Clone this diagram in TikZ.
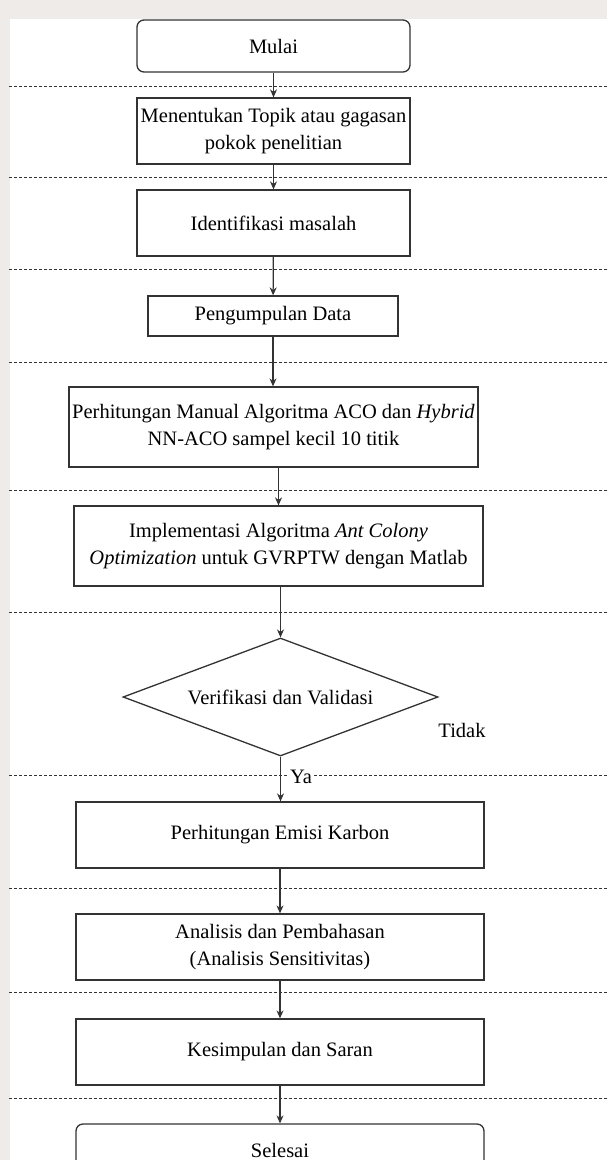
\documentclass[tikz,border=0pt]{standalone}
\usepackage{fontspec}
\setmainfont{Liberation Serif}
\usetikzlibrary{arrows.meta,positioning,shapes.geometric}
\definecolor{garis}{HTML}{333333}
\definecolor{latar}{HTML}{EEEBE8}
\tikzset{
  >={Stealth[length=8pt,width=7pt]},
  % kotak alur
  proses/.style={rectangle,draw=garis,line width=1.3pt,fill=white,align=center,
                 inner sep=2pt,font=\fontsize{20.5}{26.5}\selectfont},
  terminal/.style={proses,rounded corners=7pt},
  keputusan/.style={diamond,draw=garis,line width=1.3pt,fill=white,inner sep=0pt},
  fe/.style={->,draw=garis,line width=1.2pt},
  batas/.style={draw=garis,line width=0.9pt,dash pattern=on 3pt off 2pt},
  lbl/.style={font=\fontsize{20.5}{25}\selectfont,inner sep=1pt},
}
\begin{document}
\begin{tikzpicture}[x=1pt,y=-1pt]
\clip (0,0) rectangle (607,1160);
\fill[latar] (0,0) rectangle (607,1160);
\fill[white] (10,19) rectangle (607,1160);
% garis pemisah
\foreach \y in {86,177,269,362,490,612,775,888,992,1098}
  \draw[batas] (9,\y) -- (607,\y);
  \node[terminal,minimum width=273pt,minimum height=52pt] (mulai) at (273.5,46) {Mulai};
  \node[proses,minimum width=273pt,minimum height=66pt] (topik) at (273.5,131)
    {Menentukan Topik atau gagasan\\pokok penelitian};
  \node[proses,minimum width=273pt,minimum height=66pt] (masalah) at (273.5,223)
    {Identifikasi masalah};
  \node[proses,minimum width=250pt,minimum height=40pt] (data) at (273,316)
    {Pengumpulan Data};
  \node[proses,minimum width=409pt,minimum height=80pt] (manual) at (273.5,427)
    {Perhitungan Manual Algoritma ACO dan \textit{Hybrid}\\NN-ACO sampel kecil 10 titik};
  \node[proses,minimum width=409pt,minimum height=80pt] (impl) at (278.5,546)
    {Implementasi Algoritma \textit{Ant Colony}\\\textit{Optimization} untuk GVRPTW dengan Matlab};
  \node[keputusan,minimum width=315pt,minimum height=118pt,
        label={[lbl]center:Verifikasi dan Validasi}] (verif) at (280.5,697) {};
  \node[proses,minimum width=408pt,minimum height=66pt] (emisi) at (280,835)
    {Perhitungan Emisi Karbon};
  \node[proses,minimum width=408pt,minimum height=66pt] (analisis) at (280,947)
    {Analisis dan Pembahasan\\(Analisis Sensitivitas)};
  \node[proses,minimum width=408pt,minimum height=66pt] (simpul) at (280,1052)
    {Kesimpulan dan Saran};
  \node[terminal,minimum width=408pt,minimum height=52pt] (selesai) at (280,1150)
    {Selesai};
  \node[lbl] (tidak) at (462,730) {Tidak};
  \draw[fe] (mulai) -- (topik);
  \draw[fe] (topik) -- (masalah);
  \draw[fe] (masalah) -- (data);
  \draw[fe] (data.south) -- (manual.north -| data.south);
  \draw[fe] (manual.south -| impl.north) -- (impl.north);
  \draw[fe] (impl.south -| verif.north) -- (verif.north);
  \draw[fe] (verif.south) -- node[lbl,fill=white,pos=0.45,right=8pt] (ya) {Ya} (emisi.north -| verif.south);
  \draw[fe] (emisi) -- (analisis);
  \draw[fe] (analisis) -- (simpul);
  \draw[fe] (simpul) -- (selesai);
\end{tikzpicture}
\end{document}
